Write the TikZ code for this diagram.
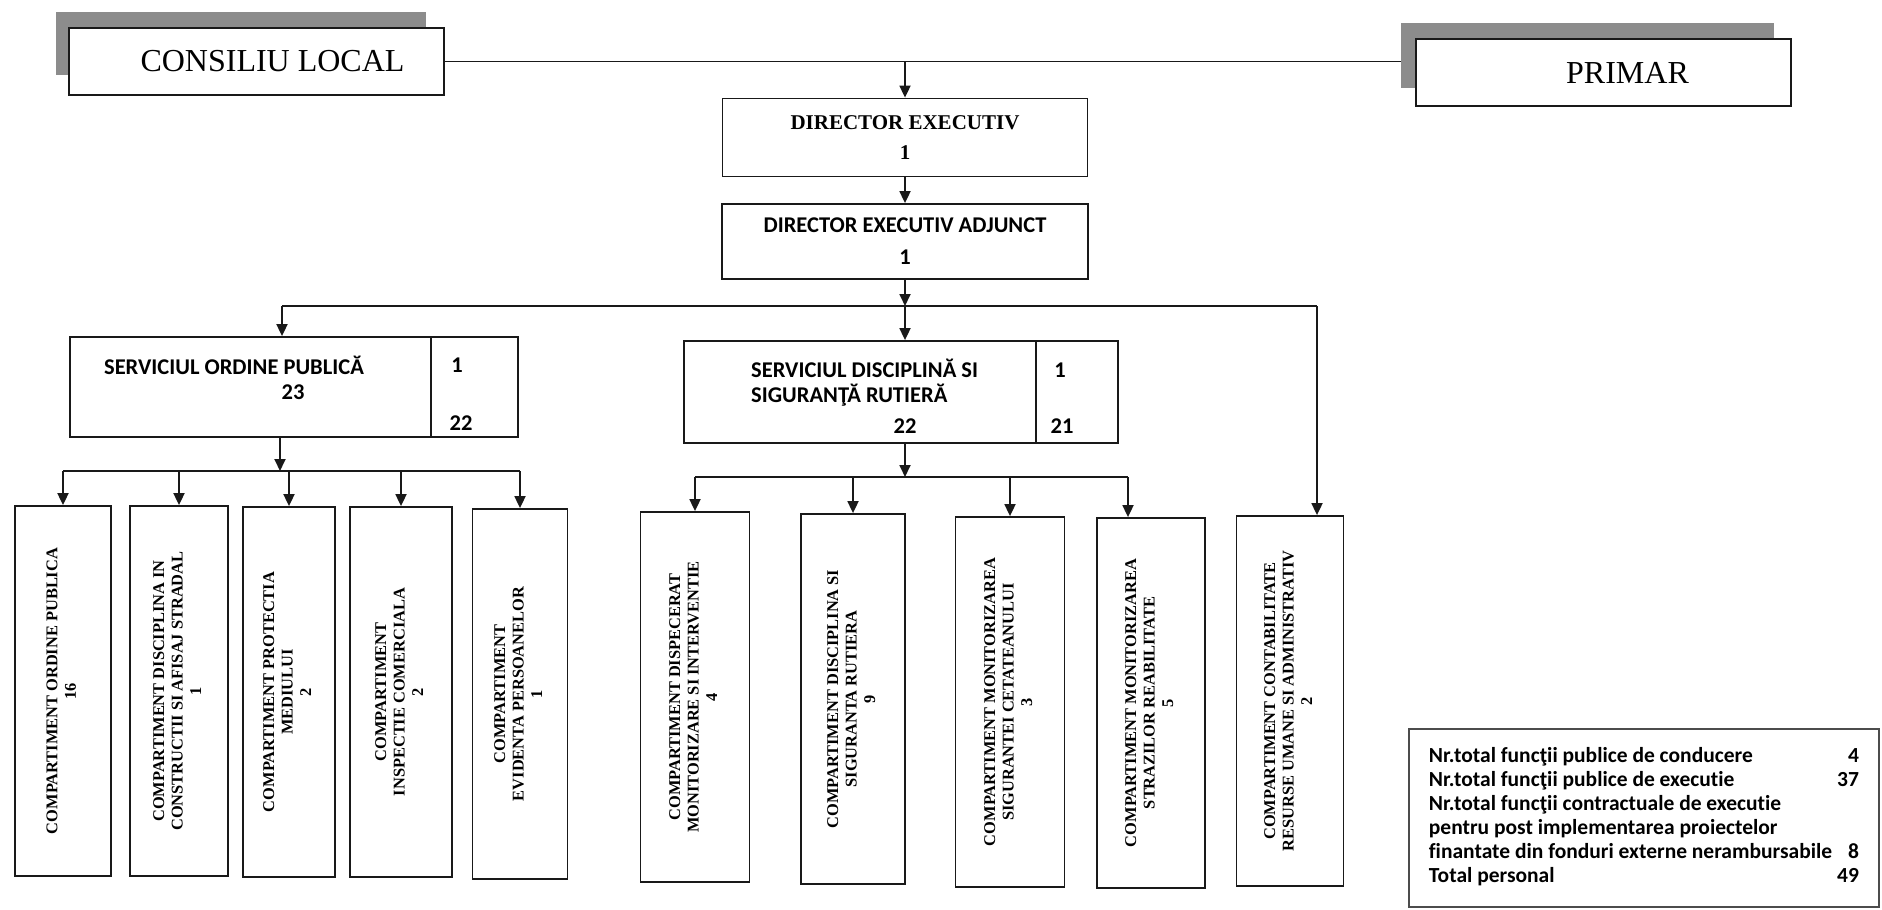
\documentclass[tikz,border=0pt]{standalone}
\usepackage{fontspec}
\usepackage{graphicx}
\setmainfont{Liberation Serif}
\newfontfamily\carl[Ligatures=NoCommon]{Carlito}
\usetikzlibrary{arrows.meta}

\newcommand{\vlines}[1]{\rotatebox{90}{\begin{tabular}{@{}c@{}}#1\end{tabular}}}

\begin{document}
\begin{tikzpicture}[x=1pt, y=-1pt,
    unitbox/.style={draw=black!90, line width=1.8pt, fill=white, inner sep=0pt},
    shadowbox/.style={fill=black!45, inner sep=0pt},
    comp/.style={unitbox, minimum height=370, font=\bfseries\fontsize{16.4}{18.5}\selectfont},
    serv/.style={inner sep=0pt, font=\carl\bfseries\fontsize{22.5}{25}\selectfont},
    link/.style={draw=black!90, line width=1.8pt},
    arr/.style={link, -{Triangle[width=11pt, length=12pt]}}]
    \useasboundingbox (0,0) rectangle (1882,910);

    % Conducere
    \node[shadowbox, minimum width=370, minimum height=63] (cls) at (241,43.5) {};
    \node[shadowbox, minimum width=373, minimum height=65] (prs) at (1587.5,55.5) {};
    \draw[link] (256,61.5) -- (1401,61.5);
    \node[unitbox, minimum width=375, minimum height=67, font=\fontsize{32}{36}\selectfont] (cl) at (256.5,61.5) {\hspace*{32pt}CONSILIU LOCAL};
    \node[unitbox, minimum width=375, minimum height=67, font=\fontsize{32}{36}\selectfont] (pr) at (1603.5,72.5) {\hspace*{48pt}PRIMAR};

    \node[unitbox, minimum width=365, minimum height=78, align=center, font=\bfseries\fontsize{21}{30}\selectfont] (de) at (905,137.5) {DIRECTOR EXECUTIV\\1};
    \node[unitbox, minimum width=366, minimum height=75, align=center, font=\carl\bfseries\fontsize{22.5}{32}\selectfont] (dea) at (905,241.5) {DIRECTOR EXECUTIV ADJUNCT\\1};

    % Servicii
    \node[unitbox, minimum width=448, minimum height=100] (sop) at (294,387) {};
    \draw[link] (431,337) -- (431,437);
    \node[serv] (sopn) at (234,365) {SERVICIUL ORDINE PUBLICĂ};
    \node[serv] (sopt) at (293,392) {23};
    \node[serv] (sopc) at (457,365) {1};
    \node[serv] (sope) at (461,423) {22};

    \node[unitbox, minimum width=434, minimum height=102] (sdsr) at (901,392) {};
    \draw[link] (1036,341) -- (1036,443);
    \node[serv, anchor=west, align=left] (sdsrn) at (751,382.5) {SERVICIUL DISCIPLINĂ SI\\SIGURANŢĂ RUTIERĂ};
    \node[serv] (sdsrt) at (905,426) {22};
    \node[serv] (sdsrc) at (1060,370) {1};
    \node[serv] (sdsre) at (1062,426) {21};

    % Compartimente
    \node[comp, minimum width=96] (c1) at (63,691) {\vlines{COMPARTIMENT ORDINE PUBLICA\\16}};
    \node[comp, minimum width=98] (c2) at (179,691) {\vlines{COMPARTIMENT DISCIPLINA IN\\CONSTRUCTII SI AFISAJ STRADAL\\1}};
    \node[comp, minimum width=92] (c3) at (289,692) {\vlines{COMPARTIMENT PROTECTIA\\MEDIULUI\\2}};
    \node[comp, minimum width=102] (c4) at (401,692) {\vlines{COMPARTIMENT\\INSPECTIE COMERCIALA\\2}};
    \node[comp, minimum width=95] (c5) at (520,694) {\vlines{COMPARTIMENT\\EVIDENTA PERSOANELOR\\1}};
    \node[comp, minimum width=109] (c6) at (695,697) {\vlines{COMPARTIMENT DISPECERAT\\MONITORIZARE SI INTERVENTIE\\4}};
    \node[comp, minimum width=104] (c7) at (853,699) {\vlines{COMPARTIMENT DISCIPLINA SI\\SIGURANTA RUTIERA\\9}};
    \node[comp, minimum width=109] (c8) at (1010,702) {\vlines{COMPARTIMENT MONITORIZAREA\\SIGURANTEI CETATEANULUI\\3}};
    \node[comp, minimum width=108] (c9) at (1151,703) {\vlines{COMPARTIMENT MONITORIZAREA\\STRAZILOR REABILITATE\\5}};
    \node[comp, minimum width=107] (c10) at (1290,701) {\vlines{COMPARTIMENT CONTABILITATE\\RESURSE UMANE SI ADMINISTRATIV\\2}};

    % Legatura
    \coordinate (tj) at (cl.east -| de.north);
    \coordinate (j0) at (282,306);
    \coordinate (j10) at (1317,306);
    \coordinate (s1) at (280,471);
    \coordinate (s2) at (905,477);
    \coordinate (j9) at (1128,477);

    \draw[arr] (tj) -- (de.north);
    \draw[arr] (de.south) -- (dea.north);
    \draw[arr] (dea.south) -- (dea.south |- j0);
    \draw[link] (j0) -- (j10);
    \draw[arr] (j0) -- (j0 |- sop.north);
    \draw[arr] (dea.south |- j0) -- (dea.south |- sdsr.north);
    \draw[arr] (j10) -- (j10 |- c10.north);

    \draw[arr] (s1 |- sop.south) -- (s1);
    \draw[link] (s1 -| c1.north) -- (s1 -| c5.north);
    \foreach \i in {1,...,5} \draw[arr] (s1 -| c\i.north) -- (c\i.north);

    \draw[arr] (s2 |- sdsr.south) -- (s2);
    \draw[link] (s2 -| c6.north) -- (j9);
    \foreach \i in {6,7,8} \draw[arr] (s2 -| c\i.north) -- (c\i.north);
    \draw[arr] (j9) -- (j9 |- c9.north);

    % Total
    \node[unitbox, draw=black!70, anchor=north west, minimum width=470, minimum height=178, font=\carl\bfseries\fontsize{21.5}{24}\selectfont] (legend) at (1408,728) {\begin{tabular}{@{}l@{\hspace{5pt}}r@{}}
        Nr.total funcţii publice de conducere & 4\\
        Nr.total funcţii publice de executie & 37\\
        Nr.total funcţii contractuale de executie & \\
        pentru post implementarea proiectelor & \\
        finantate din fonduri externe nerambursabile & 8\\
        Total personal & 49
    \end{tabular}};
\end{tikzpicture}
\end{document}
